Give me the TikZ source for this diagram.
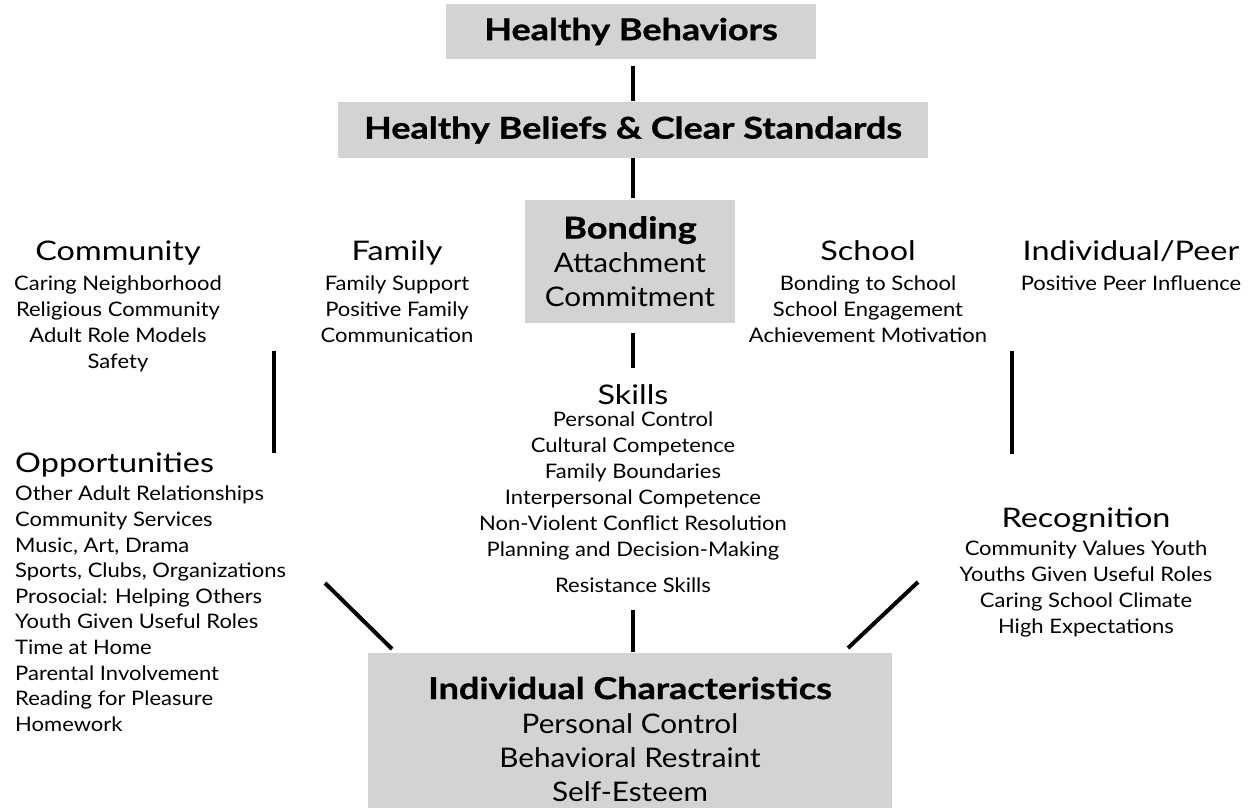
\documentclass[tikz,border=0pt]{standalone}
\usepackage{fontspec}
\setmainfont{Lato}[FakeStretch=1.1, BoldFeatures={FakeStretch=1.2, FakeBold=1}]
\newfontfamily\titlefamily{Lato}[FakeStretch=1.2]
\usetikzlibrary{positioning}

\definecolor{boxgray}{RGB}{210,211,213}
\newcommand{\bigheadfont}{\fontsize{30}{34}\selectfont\bfseries}
\newcommand{\grouptitlefont}{\titlefamily\fontsize{27}{30}\selectfont}
\newcommand{\listfont}{\fontsize{20}{26}\selectfont}
\newcommand{\boxtextfont}{\fontsize{27}{34}\selectfont}

\tikzset{
  graybox/.style={fill=boxgray, inner sep=0pt, align=center, font=\boxtextfont},
  grouptitle/.style={inner sep=0pt, font=\grouptitlefont},
  itemlist/.style={inner sep=0pt, align=center, font=\listfont},
  link/.style={line width=4pt},
}

\begin{document}
\begin{tikzpicture}[x=1pt,y=-1pt]
\useasboundingbox (0,0) rectangle (1248,808);

% the middle chain
\node[graybox, minimum width=370pt, minimum height=55pt] (behav) at (631,31.5) {\bigheadfont Healthy Behaviors};
\node[graybox, minimum width=590pt, minimum height=56pt] (belief) at (633,130) {\bigheadfont Healthy Beliefs \& Clear Standards};
\node[graybox, minimum width=210pt, minimum height=123pt] (bond) at (630,261.5) {{\bigheadfont Bonding}\\Attachment\\Commitment};
\node[graybox, minimum width=524pt, minimum height=172pt] (indiv) at (630,739) {{\bigheadfont Individual Characteristics}\\Personal Control\\Behavioral Restraint\\Self-Esteem};

% domains
\node[grouptitle, anchor=base] (comm) at (118,260) {Community};
\node[itemlist, below=16pt of comm.base] (commlist) {Caring Neighborhood\\Religious Community\\Adult Role Models\\Safety};
\node[grouptitle, anchor=base] (fam) at (397,260) {Family};
\node[itemlist, below=16pt of fam.base] (famlist) {Family Support\\Positive Family\\Communication};
\node[grouptitle, anchor=base] (school) at (868,260) {School};
\node[itemlist, below=16pt of school.base] (schoollist) {Bonding to School\\School Engagement\\Achievement Motivation};
\node[grouptitle, anchor=base] (peer) at (1131,260) {Individual/Peer};
\node[itemlist, below=16pt of peer.base] (peerlist) {Positive Peer Influence};

% skills, opportunities, recognition
\node[grouptitle, anchor=base] (skills) at (633,404) {Skills};
\node[itemlist, below=8pt of skills.base] (skillslist) {Personal Control\\Cultural Competence\\Family Boundaries\\Interpersonal Competence\\Non-Violent Conflict Resolution\\Planning and Decision-Making\\[10pt]Resistance Skills};
\node[grouptitle, anchor=base west] (opp) at (15,472) {Opportunities};
\node[itemlist, align=left, font=\fontsize{20}{25.6}\selectfont, below right=14pt and 0pt of opp.base west] (opplist) {Other Adult Relationships\\Community Services\\Music, Art, Drama\\Sports, Clubs, Organizations\\Prosocial: Helping Others\\Youth Given Useful Roles\\Time at Home\\Parental Involvement\\Reading for Pleasure\\Homework};
\node[grouptitle, anchor=base] (recog) at (1086,527) {Recognition};
\node[itemlist, below=14pt of recog.base] (recoglist) {Community Values Youth\\Youths Given Useful Roles\\Caring School Climate\\High Expectations};

% free line ends
\coordinate (lvtop) at (273.5,351);
\coordinate (lvbot) at (273.5,453);
\coordinate (rvtop) at (1012,351);
\coordinate (rvbot) at (1012,454);
\coordinate (ldtop) at (325,583);
\coordinate (ldbot) at (392,649);
\coordinate (rdtop) at (918,582);
\coordinate (rdbot) at (848,648);

% connectors
\draw[link, shorten <=7pt, shorten >=1pt] (belief.north |- behav.south) -- (belief.north);
\draw[link, shorten >=2pt] (belief.south) -- (belief.south |- bond.north);
\draw[link, shorten <=10pt, shorten >=16pt] (skills.north |- bond.south) -- (skills.north);
\draw[link, shorten <=17pt, shorten >=1pt] (skillslist.south) -- (skillslist.south |- indiv.north);
\draw[link] (lvtop) -- (lvbot);
\draw[link] (rvtop) -- (rvbot);
\draw[link] (ldtop) -- (ldbot);
\draw[link] (rdtop) -- (rdbot);
\end{tikzpicture}
\end{document}
